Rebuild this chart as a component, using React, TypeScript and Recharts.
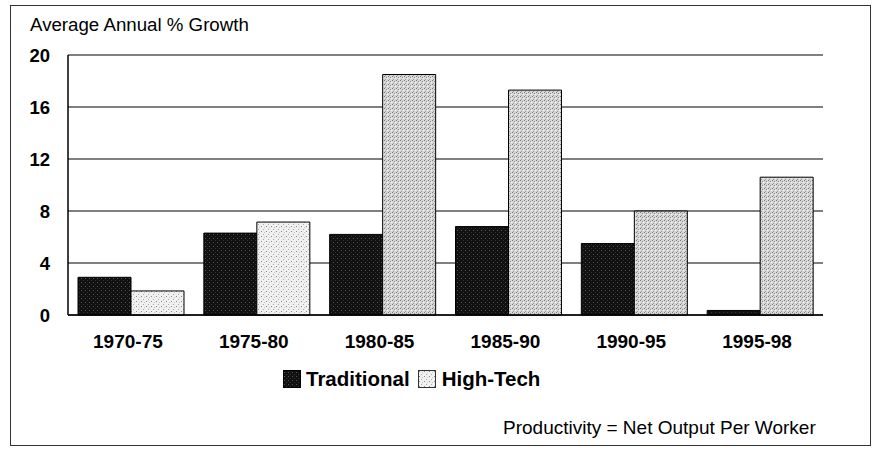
import React from 'react';
import { BarChart, Bar, Cell, XAxis, YAxis, CartesianGrid } from 'recharts';

const periods = ['1970-75', '1975-80', '1980-85', '1985-90', '1990-95', '1995-98'];
const traditional = [2.9, 6.3, 6.2, 6.8, 5.5, 0.35];
const highTech = [1.85, 7.15, 18.5, 17.3, 8.0, 10.6];
const yTicks = [0, 4, 8, 12, 16, 20];

const data = periods.map((p, i) => ({
  period: p,
  traditional: traditional[i],
  highTech: highTech[i],
}));

const font = '"Liberation Sans", Arial, sans-serif';

// the first two high-tech bars print paler in the original
const htFills = ['url(#htLight)', 'url(#htLight)', 'url(#ht)', 'url(#ht)', 'url(#ht)', 'url(#ht)'];

const Patterns = () => (
  <svg width={0} height={0} style={{ position: 'absolute' }}>
    <defs>
      <pattern id="trad" width={4} height={4} patternUnits="userSpaceOnUse">
        <rect width={4} height={4} fill="#111" />
        <rect x={1} y={2} width={1} height={1} fill="#555" />
        <rect x={3} y={0} width={1} height={1} fill="#333" />
      </pattern>
      <pattern id="ht" width={4} height={4} patternUnits="userSpaceOnUse">
        <rect width={4} height={4} fill="#d8d8d8" />
        <rect x={0} y={0} width={1} height={1} fill="#7a7a7a" />
        <rect x={2} y={1} width={1} height={1} fill="#8a8a8a" />
        <rect x={1} y={3} width={1} height={1} fill="#999" />
        <rect x={3} y={2} width={1} height={1} fill="#f2f2f2" />
      </pattern>
      <pattern id="htLight" width={5} height={5} patternUnits="userSpaceOnUse">
        <rect width={5} height={5} fill="#f0f0f0" />
        <rect x={1} y={1} width={1} height={1} fill="#8a8a8a" />
        <rect x={3} y={4} width={1} height={1} fill="#aaa" />
        <rect x={4} y={2} width={1} height={1} fill="#c4c4c4" />
      </pattern>
    </defs>
  </svg>
);

export default function App() {
  return (
    <div
      style={{
        position: 'absolute',
        left: 0,
        top: 0,
        width: 875,
        height: 452,
        background: '#fff',
        fontFamily: font,
        color: '#000',
      }}
    >
      <Patterns />
      <div
        style={{
          position: 'absolute',
          left: 10,
          top: 5,
          width: 861,
          height: 441,
          border: '1.5px solid #333',
          boxSizing: 'border-box',
        }}
      />
      <div style={{ position: 'absolute', left: 30, top: 14, fontSize: 18.7 }}>
        Average Annual % Growth
      </div>
      <BarChart
        width={875}
        height={452}
        data={data}
        margin={{ top: 55, right: 52, bottom: 107, left: 30 }}
        barCategoryGap={10}
        barGap={0}
        style={{ position: 'absolute', left: 0, top: 0 }}
      >
        <CartesianGrid vertical={false} stroke="#000" strokeWidth={1.2} />
        <XAxis
          dataKey="period"
          tickLine={false}
          axisLine={{ stroke: '#000', strokeWidth: 1.5 }}
          tickMargin={14}
          height={30}
          tick={{ fill: '#000', fontSize: 19, fontWeight: 'bold', fontFamily: font, dx: -3 }}
        />
        <YAxis
          domain={[0, 20]}
          ticks={yTicks}
          width={38}
          tickLine={false}
          tickSize={0}
          tickMargin={18}
          axisLine={{ stroke: '#000', strokeWidth: 1.5 }}
          tick={{ fill: '#000', fontSize: 18.5, fontWeight: 'bold', fontFamily: font }}
        />
        <YAxis
          yAxisId="right"
          orientation="right"
          domain={[0, 20]}
          width={0}
          tick={false}
          tickLine={false}
          axisLine={{ stroke: '#000', strokeWidth: 1.5 }}
        />
        <Bar dataKey="traditional" fill="url(#trad)" stroke="#000" strokeWidth={1} isAnimationActive={false} />
        <Bar dataKey="highTech" fill="url(#ht)" stroke="#000" strokeWidth={1} isAnimationActive={false}>
          {data.map((d, i) => (
            <Cell key={d.period} fill={htFills[i]} />
          ))}
        </Bar>
      </BarChart>
      <div
        style={{
          position: 'absolute',
          left: 283,
          top: 367,
          display: 'flex',
          alignItems: 'center',
          fontSize: 20.5,
          fontWeight: 'bold',
        }}
      >
        <svg width={18} height={18} style={{ marginRight: 5 }}>
          <rect x={0.5} y={0.5} width={17} height={17} fill="url(#trad)" stroke="#000" />
        </svg>
        <span style={{ marginRight: 8 }}>Traditional</span>
        <svg width={18} height={18} style={{ marginRight: 6 }}>
          <rect x={0.5} y={0.5} width={17} height={17} fill="url(#htLight)" stroke="#333" />
        </svg>
        <span>High-Tech</span>
      </div>
      <div style={{ position: 'absolute', left: 503, top: 417, fontSize: 19 }}>
        Productivity = Net Output Per Worker
      </div>
    </div>
  );
}
